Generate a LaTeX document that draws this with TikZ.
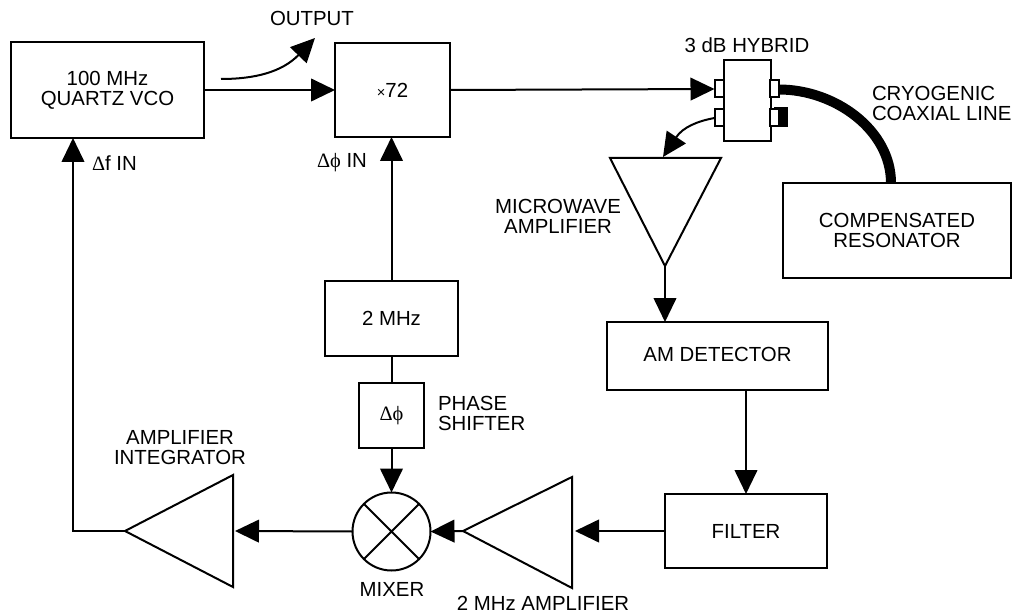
\documentclass[tikz,border=0pt]{standalone}
\usepackage{fontspec}
\setmainfont{Liberation Sans}
\newfontfamily\symf{Liberation Serif}
\usetikzlibrary{arrows.meta,calc}
\newcommand{\dphi}{{\symf Δϕ}}
\newcommand{\boxnode}[6]{\node[blk,minimum width=#4*0.75pt,minimum height=#5*0.75pt,anchor=north west] (#1) at (#2,#3) {#6};}
\newcommand{\portnode}[3]{\node[blk,fill=white,minimum width=6.75pt,minimum height=12.75pt] (#1) at (#2,#3) {};}
\tikzset{
  x=0.75pt,y=-0.75pt,
  blk/.style={draw=black,line width=1.5pt,inner sep=0pt,outer sep=0pt,align=center,font=\fontsize{15.3pt}{15pt}\selectfont},
  lbl/.style={inner sep=0pt,outer sep=0pt,align=center,font=\fontsize{15.3pt}{15pt}\selectfont},
  wire/.style={line width=1.5pt},
  arr/.style={line width=1.5pt,-{Triangle[length=18pt,width=17pt]}},
  tri/.style={draw=black,line width=1.5pt,line join=miter},
  coax/.style={line width=7.5pt},
}
\begin{document}
\begin{tikzpicture}
\useasboundingbox (0,0) rectangle (1014,613);
% boxes
\boxnode{vco}{11}{42}{193}{96}{\raisebox{1pt}{\shortstack{100 MHz\\[1pt]QUARTZ VCO}}}
\boxnode{mul}{335}{43}{115}{94}{{\fontsize{11pt}{12pt}\selectfont ×}72}
\boxnode{hyb}{724}{60}{47}{81}{}
\boxnode{res}{783}{183}{228}{95}{COMPENSATED\\RESONATOR}
\boxnode{osc}{325}{281}{133}{75}{\raisebox{0.75pt}{2 MHz}}
\boxnode{shf}{359}{383}{65}{65}{\dphi}
\boxnode{det}{607}{322}{221}{68}{\raisebox{2pt}{AM DETECTOR}}
\boxnode{fil}{665}{494}{162}{74}{FILTER}
% hybrid ports
\fill (774,107) rectangle (788,127);
\portnode{pa}{719}{89}
\portnode{pb}{719}{118}
\portnode{pc}{774}{89}
\portnode{pd}{774}{118}
% mixer
\node[circle,draw=black,line width=1.5pt,inner sep=0pt,outer sep=0pt,minimum size=58.5pt] (mix) at (391.5,531.5) {};
\draw[wire] (mix.45) -- (mix.225) (mix.135) -- (mix.315);
% triangles
\coordinate (mwaL) at (610,158); \coordinate (mwaR) at (721,158); \coordinate (mwaA) at (665,266);
\coordinate (ampR) at (572,531); \coordinate (ampT) at (572,477); \coordinate (ampB) at (572,588); \coordinate (ampA) at (463,531);
\coordinate (intR) at (233,531); \coordinate (intT) at (233,475); \coordinate (intB) at (233,587); \coordinate (intA) at (125,531);
\draw[tri] (mwaL) -- (mwaR) -- (mwaA) -- cycle;
\draw[tri] (ampT) -- (ampB) -- (ampA) -- cycle;
\draw[tri] (intT) -- (intB) -- (intA) -- cycle;
% free ends
\coordinate (outS) at (221,79);
\coordinate (outE) at (315,38);
\coordinate (vcoin) at (73,138);
\coordinate (cxS) at (779,89.5);
\coordinate (cxE) at (891,183);
\coordinate (mwaIn) at (663,157);
\coordinate (ampIn) at (575,531);
\coordinate (intIn) at (235,531);
% connectors
\draw[arr] (vco.east |- mul.west) -- (mul.west);
\draw[arr] (outS) .. controls (255,79) and (282,72) .. (outE);
\draw[arr] (mul.east) -- (pa.west);
\draw[coax] (cxS) .. controls (835,89.5) and (891,130) .. (cxE);
\draw[arr] (pb.west) .. controls (698,121) and (683,127) .. (mwaIn);
\draw[arr] (mwaA) -- (mwaA |- det.north);
\draw[arr] (fil.north |- det.south) -- (fil.north);
\draw[arr] (fil.west) -- (ampIn);
\draw[arr] (ampA) -- (mix.east);
\draw[arr] (mix.west) -- (intIn);
\draw[arr] (shf.south) -- (mix.north);
\draw[wire] (osc.south) -- (shf.north);
\draw[arr] (osc.north) -- (osc.north |- mul.south);
\draw[arr] (intA) -| (vcoin);
% labels
\node[lbl] (lout) at (312,18) {OUTPUT};
\node[lbl,anchor=west] (ldf) at (92,163) {{\symf Δ}f IN};
\node[lbl,anchor=west] (ldp) at (317,163) {\dphi{} IN};
\node[lbl] (lhyb) at (747,45) {3 dB HYBRID};
\node[lbl,align=left,anchor=west] (lcx) at (872,103) {CRYOGENIC\\COAXIAL LINE};
\node[lbl] (lmwa) at (558,216) {MICROWAVE\\AMPLIFIER};
\node[lbl,align=left,anchor=west] (lps) at (438,413) {PHASE\\SHIFTER};
\node[lbl] (lint) at (180,448) {AMPLIFIER\\INTEGRATOR};
\node[lbl] (lmix) at (392,589) {MIXER};
\node[lbl] (lamp) at (543,603) {2 MHz AMPLIFIER};
\end{tikzpicture}
\end{document}
